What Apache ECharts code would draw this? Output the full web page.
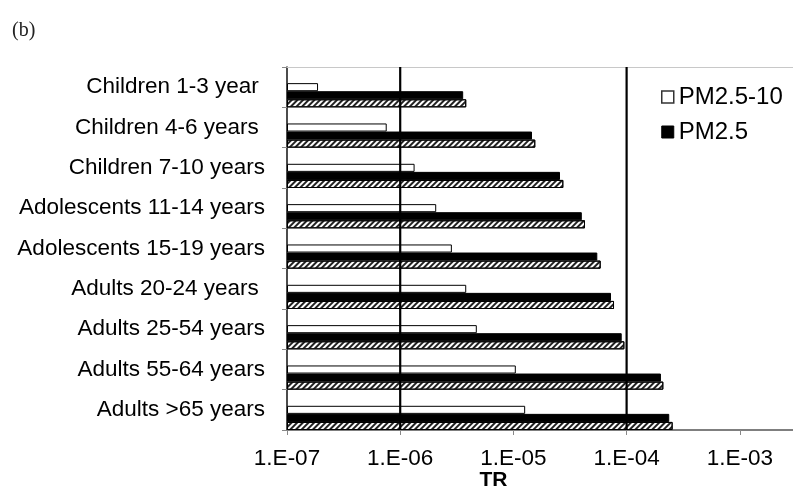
<!DOCTYPE html>
<html>
<head>
<meta charset="utf-8">
<script src="https://cdn.jsdelivr.net/npm/echarts@6/dist/echarts.min.js"></script>
<style>
html,body{margin:0;padding:0;background:#fff;}
#chart{width:793px;height:493px;}
</style>
</head>
<body>
<div id="chart"></div>
<script>
const categories = [
  'Children 1-3 year ',
  'Children 4-6 years ',
  'Children 7-10 years',
  'Adolescents 11-14 years',
  'Adolescents 15-19 years',
  'Adults 20-24 years ',
  'Adults 25-54 years',
  'Adults 55-64 years',
  'Adults >65 years'
];
const pm25_10 = [1.88e-7, 7.6e-7, 1.34e-6, 2.08e-6, 2.86e-6, 3.83e-6, 4.75e-6, 1.05e-5, 1.27e-5];
const pm25    = [3.6e-6, 1.46e-5, 2.58e-5, 4.02e-5, 5.51e-5, 7.28e-5, 9.05e-5, 2.01e-4, 2.38e-4];
const pm10    = [3.83e-6, 1.56e-5, 2.76e-5, 4.29e-5, 5.90e-5, 7.74e-5, 9.55e-5, 2.11e-4, 2.55e-4];
const xTickLabels = ['1.E-07', '1.E-06', '1.E-05', '1.E-04', '1.E-03'];
const refLines = [1e-6, 1e-4];

const FONT = "'Liberation Sans', Arial, sans-serif";
const GRID = { left: 287, right: -4, top: 67, bottom: 63 };
const AX_MIN = 1e-7, AX_MAX = 3.2e-3;
const spacer = categories.map(() => null);

const chart = echarts.init(document.getElementById('chart'));
chart.setOption({
  animation: false,
  backgroundColor: '#fff',
  title: {
    text: '(b)', left: 7, top: 16,
    textStyle: { fontFamily: "'Liberation Serif', 'Times New Roman', serif", fontSize: 20, fontWeight: 'normal', color: '#222' }
  },
  grid: Object.assign({ containLabel: false, outerBoundsMode: 'none' }, GRID),
  legend: {
    orient: 'vertical', left: 656, top: 80,
    itemWidth: 12, itemHeight: 12, itemGap: 11,
    textStyle: { fontFamily: FONT, fontSize: 24, color: '#000' },
    data: [
      { name: 'PM2.5-10', icon: 'rect', itemStyle: { color: '#fff', borderColor: '#333', borderWidth: 1.5 } },
      { name: 'PM2.5', icon: 'rect', itemStyle: { color: '#000', borderColor: '#000', borderWidth: 1 } }
    ],
    selectedMode: false
  },
  xAxis: [{
    type: 'log', logBase: 10,
    min: AX_MIN, max: AX_MAX, startValue: AX_MIN,
    name: 'TR', nameLocation: 'middle', nameGap: 40, nameMoveOverlap: false,
    nameTextStyle: { fontFamily: FONT, fontSize: 21, fontWeight: 'bold', color: '#000', padding: [0, 97, 0, 0] },
    axisLine: { show: true, lineStyle: { color: '#555', width: 1.5 } },
    axisTick: { show: true, length: 5, lineStyle: { color: '#888' } },
    axisLabel: {
      fontFamily: FONT, fontSize: 22.5, color: '#000', margin: 17, showMaxLabel: false,
      formatter: v => {
        const e = Math.round(Math.log10(v));
        return xTickLabels[e + 7] || '';
      }
    },
    splitLine: { show: false },
    minorTick: { show: false }
  }, {
    type: 'log', logBase: 10, position: 'top',
    min: AX_MIN, max: AX_MAX,
    axisLine: { show: true, lineStyle: { color: '#c8c8c8', width: 1 } },
    axisTick: { show: false }, axisLabel: { show: false }, splitLine: { show: false }
  }],
  yAxis: {
    type: 'category', inverse: true, data: categories,
    axisLine: { show: true, lineStyle: { color: '#111', width: 1.5 } },
    axisTick: { show: true, length: 5, alignWithLabel: false, lineStyle: { color: '#888' } },
    axisLabel: { fontFamily: FONT, fontSize: 22.5, color: '#000', margin: 22 }
  },
  series: [
    { name: 's1', type: 'bar', data: spacer, barCategoryGap: '0%', barGap: '0%' },
    { name: 's2', type: 'bar', data: spacer, barCategoryGap: '0%', barGap: '0%' },
    { name: 'PM2.5-10', type: 'bar', data: pm25_10, barCategoryGap: '0%', barGap: '0%',
      itemStyle: { color: '#fff', borderColor: '#000', borderWidth: 1 } },
    { name: 'PM2.5', type: 'bar', data: pm25, barCategoryGap: '0%', barGap: '0%',
      itemStyle: { color: '#000', borderColor: '#000', borderWidth: 1 } },
    { name: 'PM10', type: 'bar', data: pm10, barCategoryGap: '0%', barGap: '0%',
      itemStyle: {
        color: '#fff', borderColor: '#000', borderWidth: 1,
        decal: { symbol: 'rect', symbolSize: 1, color: '#222', backgroundColor: null,
                 dashArrayX: [1, 0], dashArrayY: [2, 2], rotation: -Math.PI / 4 }
      }
    }
  ]
});

// Reference lines placed through the chart's own axes
const rect = chart.getModel().getComponent('grid', 0).coordinateSystem.getRect();
chart.setOption({
  graphic: refLines.map(v => {
    const x = chart.convertToPixel({ xAxisIndex: 0 }, v);
    return {
      type: 'line', z: 100, silent: true,
      shape: { x1: x, y1: rect.y, x2: x, y2: rect.y + rect.height },
      style: { stroke: '#000', lineWidth: 2.2 }
    };
  })
});
</script>
</body>
</html>
